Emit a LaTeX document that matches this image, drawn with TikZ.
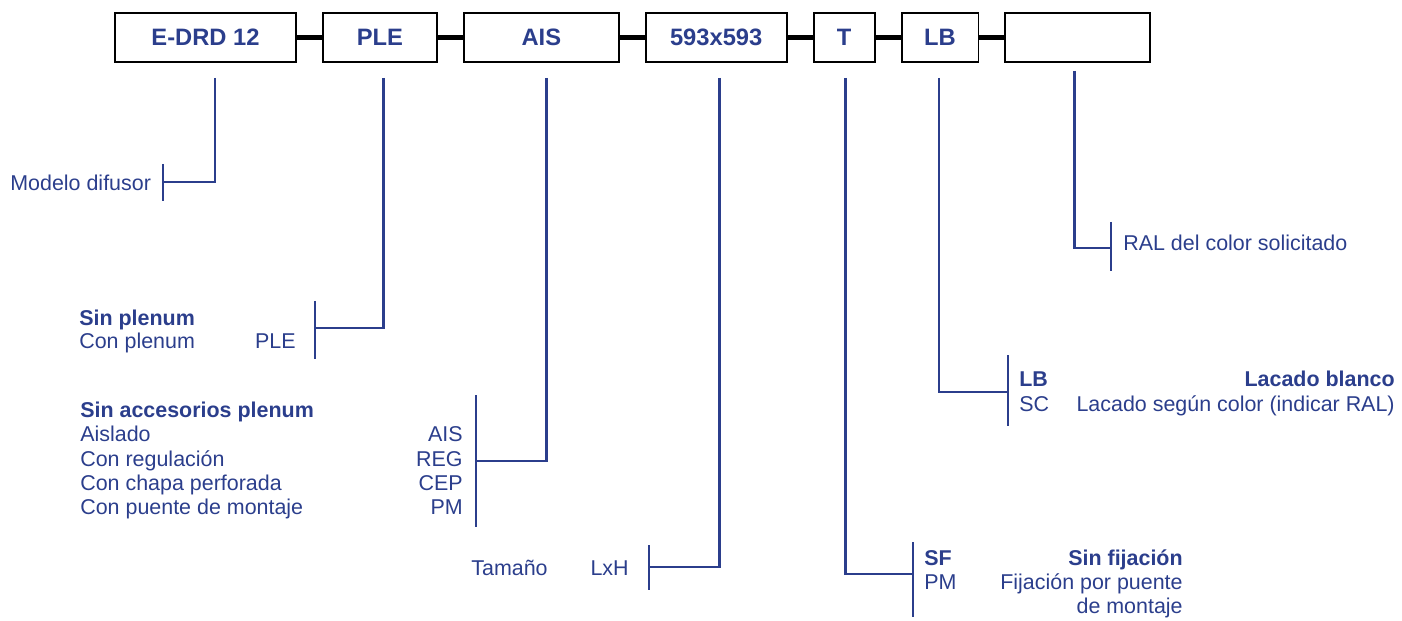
\documentclass[tikz,border=0pt]{standalone}
\usepackage{fontspec}
\setmainfont{Liberation Sans}
\usetikzlibrary{positioning,calc}
\definecolor{navy}{RGB}{43,62,140}

\begin{document}
\begin{tikzpicture}[x=0.02cm, y=-0.02cm, node distance=0.50cm,
    box/.style = {draw, line width=1.1pt, minimum height=0.98cm, inner sep=0pt, text=navy, font=\fontsize{13.5}{16}\selectfont\bfseries},
    link/.style = {line width=2.4pt},
    branch/.style = {draw=navy, line width=1.6pt},
    txt/.style = {inner sep=0pt, text=navy, font=\fontsize{12.2}{14}\selectfont},
    lft/.style = {txt, anchor=base west},
    rgt/.style = {txt, anchor=base east}]

    \useasboundingbox (0,0) rectangle (1402,621);

    % code boxes
    \node[box, minimum width=3.62cm] (model) at (205.5,37.5) {E-DRD 12};
    \node[box, minimum width=2.28cm, right=of model] (plenum) {PLE};
    \node[box, minimum width=3.10cm, right=of plenum] (acc) {AIS};
    \node[box, minimum width=2.82cm, right=of acc] (size) {593x593};
    \node[box, minimum width=1.22cm, right=of size] (fix) {T};
    \node[box, minimum width=1.54cm, right=of fix] (finish) {LB};
    \node[box, minimum width=2.90cm, right=of finish] (ral) {};

    \draw[link] (model) -- (plenum);
    \draw[link] (plenum) -- (acc);
    \draw[link] (acc) -- (size);
    \draw[link] (size) -- (fix);
    \draw[link] (fix) -- (finish);
    \draw[link] (finish) -- (ral);

    % branch corners
    \coordinate (c1) at (163,182);
    \coordinate (c2) at (315,328);
    \coordinate (c3) at (476,461);
    \coordinate (c4) at (649,567);
    \coordinate (c5) at (913,574);
    \coordinate (c6) at (1008,392);
    \coordinate (c7) at (1111,248);

    \draw[branch] ($(model.south)+(9.5,15)$) |- (c1);
    \draw[branch] ($(plenum.south)+(3.5,15)$) |- (c2);
    \draw[branch] ($(acc.south)+(5.5,15)$) |- (c3);
    \draw[branch] ($(size.south)+(3,15)$) |- (c4);
    \draw[branch] ($(fix.south)+(1,15)$) |- (c5);
    \draw[branch] ($(finish.south)+(-1,15)$) |- (c6);
    \draw[branch] ($(ral.south)+(-3.5,8)$) |- (c7);

    \draw[branch] ($(c1)+(0,-18)$) -- ($(c1)+(0,19)$);
    \draw[branch] ($(c2)+(0,-27)$) -- ($(c2)+(0,31)$);
    \draw[branch] ($(c3)+(0,-66)$) -- ($(c3)+(0,66)$);
    \draw[branch] ($(c4)+(0,-22)$) -- ($(c4)+(0,23)$);
    \draw[branch] ($(c5)+(0,-32)$) -- ($(c5)+(0,43)$);
    \draw[branch] ($(c6)+(0,-37)$) -- ($(c6)+(0,34)$);
    \draw[branch] ($(c7)+(0,-26)$) -- ($(c7)+(0,23)$);

    % labels
    \node[lft] (t1) at (10,191) {Modelo difusor};

    \node[lft] (t2a) at (79,325) {\bfseries Sin plenum};
    \node[lft] (t2b) at (79,348) {Con plenum};
    \node[rgt] (t2c) at (296,348) {PLE};

    \node[lft] (t3a) at (80,417) {\bfseries Sin accesorios plenum};
    \node[lft] (t3b) at (80,441) {Aislado};
    \node[lft] (t3c) at (80,466) {Con regulación};
    \node[lft] (t3d) at (80,490) {Con chapa perforada};
    \node[lft] (t3e) at (80,514) {Con puente de montaje};
    \node[rgt] (t3f) at (463,441) {AIS};
    \node[rgt] (t3g) at (463,466) {REG};
    \node[rgt] (t3h) at (463,490) {CEP};
    \node[rgt] (t3i) at (463,514) {PM};

    \node[lft] (t4a) at (471,575) {Tamaño};
    \node[rgt] (t4b) at (629,575) {LxH};

    \node[lft] (t5a) at (924,565) {\bfseries SF};
    \node[lft] (t5b) at (924,589) {PM};
    \node[rgt] (t5c) at (1183,565) {\bfseries Sin fijación};
    \node[rgt] (t5d) at (1183,589) {Fijación por puente};
    \node[rgt] (t5e) at (1183,613) {de montaje};

    \node[lft] (t6a) at (1019,386) {\bfseries LB};
    \node[lft] (t6b) at (1019,411) {SC};
    \node[rgt] (t6c) at (1395,386) {\bfseries Lacado blanco};
    \node[rgt] (t6d) at (1395,411) {Lacado según color (indicar RAL)};

    \node[lft] (t7) at (1123,251) {RAL del color solicitado};

\end{tikzpicture}
\end{document}
